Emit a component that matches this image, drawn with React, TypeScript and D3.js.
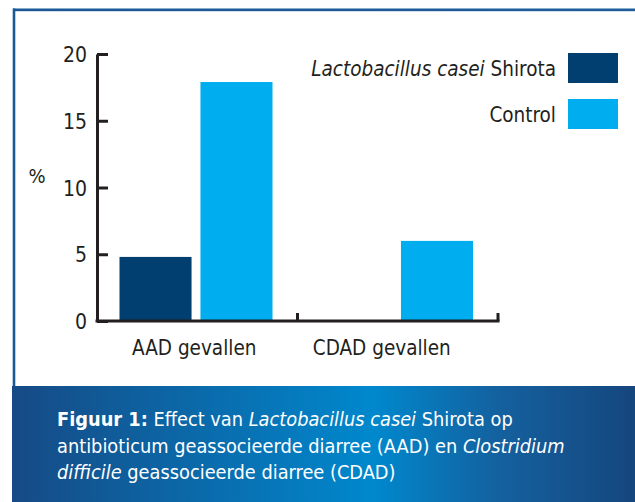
import { useEffect, useRef } from "react";
import * as d3 from "d3";

// chart data
const categories = ["AAD gevallen", "CDAD gevallen"];
const seriesNames = ["Lactobacillus casei Shirota", "Control"];
const shirotaValues = [4.8, 0];
const controlValues = [17.9, 6.0];
const yTicks = [0, 5, 10, 15, 20];

const colors = ["#003f6f", "#00aeef"];
const ink = "#231f20";
const font = "'Liberation Sans Narrow', 'DejaVu Sans Condensed', 'Liberation Sans', sans-serif";

// caption pieces: [text, weight, style]
const captionLines: [string, string, string][][] = [
  [["Figuur 1:", "bold", "normal"], [" Effect van ", "normal", "normal"], ["Lactobacillus casei", "normal", "italic"], [" Shirota op", "normal", "normal"]],
  [["antibioticum geassocieerde diarree (AAD) en ", "normal", "normal"], ["Clostridium", "normal", "italic"]],
  [["difficile", "normal", "italic"], [" geassocieerde diarree (CDAD)", "normal", "normal"]],
];

const App: React.FC = () => {
  const ref = useRef<HTMLDivElement>(null);

  useEffect(() => {
    const width = 635;
    const height = 502;

    const svg = d3.select(ref.current)
      .selectAll("svg")
      .data([null])
      .join("svg")
      .attr("width", width)
      .attr("height", height)
      .style("display", "block")
      .style("font-family", font);
    svg.selectAll("*").remove();

    // gradients
    const defs = svg.append("defs");
    const capGrad = defs.append("linearGradient").attr("id", "capGrad");
    capGrad.append("stop").attr("offset", "0%").attr("stop-color", "#164a85");
    capGrad.append("stop").attr("offset", "58%").attr("stop-color", "#0088cd");
    capGrad.append("stop").attr("offset", "78%").attr("stop-color", "#14619f");
    capGrad.append("stop").attr("offset", "100%").attr("stop-color", "#15467d");

    const frameGrad = defs.append("linearGradient").attr("id", "frameGrad");
    frameGrad.append("stop").attr("offset", "0%").attr("stop-color", "#1b5896");
    frameGrad.append("stop").attr("offset", "100%").attr("stop-color", "#1d5d9a");

    // frame
    svg.append("rect").attr("x", 13).attr("y", 8.5).attr("width", width - 13).attr("height", 2.7).attr("fill", "url(#frameGrad)");
    svg.append("rect").attr("x", 12.7).attr("y", 8.5).attr("width", 2.6).attr("height", 386 - 8.5).attr("fill", "#1b5896");

    // caption box
    svg.append("rect").attr("x", 12).attr("y", 386).attr("width", width - 12).attr("height", height - 386).attr("fill", "url(#capGrad)");

    const cap = svg.append("text")
      .attr("fill", "#ffffff")
      .attr("font-size", 19.8);
    captionLines.forEach((line, i) => {
      line.forEach(([t, w, s], j) => {
        const ts = cap.append("tspan")
          .attr("font-weight", w)
          .attr("font-style", s)
          .text(t);
        if (j === 0) ts.attr("x", 57).attr("y", 426 + i * 26.5);
      });
    });

    // scales
    const y = d3.scaleLinear().domain([0, 20]).range([321, 54]);
    const x0 = d3.scaleBand().domain(categories).range([97, 498]);
    const x1 = d3.scaleBand().domain(seriesNames).range([22.5, 175.5]).paddingInner(0.11);

    const values = [shirotaValues, controlValues];

    // bars
    categories.forEach((c, ci) => {
      seriesNames.forEach((s, si) => {
        const v = values[si][ci];
        if (v <= 0) return;
        svg.append("rect")
          .attr("x", (x0(c) ?? 0) + (x1(s) ?? 0))
          .attr("y", y(v))
          .attr("width", x1.bandwidth())
          .attr("height", y(0) - y(v))
          .attr("fill", colors[si]);
      });
    });

    // y axis
    const yAxis = svg.append("g")
      .attr("transform", `translate(97,0)`)
      .call(d3.axisLeft(y).tickValues(yTicks).tickSizeInner(-11).tickSizeOuter(0).tickPadding(10));
    yAxis.select(".domain").attr("stroke", ink).attr("stroke-width", 3);
    yAxis.selectAll(".tick line").attr("stroke", ink).attr("stroke-width", 3);
    yAxis.selectAll(".tick text")
      .attr("fill", ink)
      .attr("font-size", 21)
      .attr("font-family", font)
      .attr("dy", "0.36em");

    // x axis
    const [xs, xe] = x0.range();
    svg.append("line")
      .attr("x1", xs - 1.5).attr("x2", xe + 1.5)
      .attr("y1", y(0)).attr("y2", y(0))
      .attr("stroke", ink).attr("stroke-width", 3);
    categories.forEach(c => {
      const tx = (x0(c) ?? 0) + x0.bandwidth();
      svg.append("line")
        .attr("x1", tx).attr("x2", tx)
        .attr("y1", y(0)).attr("y2", y(0) - 8)
        .attr("stroke", ink).attr("stroke-width", 3);
    });

    const labelShift = [-3, -16];
    categories.forEach((c, ci) => {
      svg.append("text")
        .attr("x", (x0(c) ?? 0) + x0.bandwidth() / 2 + labelShift[ci])
        .attr("y", 355)
        .attr("text-anchor", "middle")
        .attr("font-size", 20.5)
        .attr("fill", ink)
        .text(c);
    });

    // unit label
    svg.append("text")
      .attr("x", 37).attr("y", 183)
      .attr("text-anchor", "middle")
      .attr("font-size", 20)
      .attr("fill", ink)
      .text("%");

    // legend
    seriesNames.forEach((s, si) => {
      const cy = 68 + si * 46;
      svg.append("rect")
        .attr("x", 568).attr("y", cy - 15)
        .attr("width", 50).attr("height", 30)
        .attr("fill", colors[si]);
      const t = svg.append("text")
        .attr("x", 556).attr("y", cy + 8)
        .attr("text-anchor", "end")
        .attr("font-size", 20.5)
        .attr("fill", ink);
      if (si === 0) {
        t.append("tspan").attr("font-style", "italic").text("Lactobacillus casei");
        t.append("tspan").text(" Shirota");
      } else {
        t.text(s);
      }
    });
  }, []);

  return <div ref={ref} style={{ position: "absolute", left: 0, top: 0 }} />;
};

export default App;
